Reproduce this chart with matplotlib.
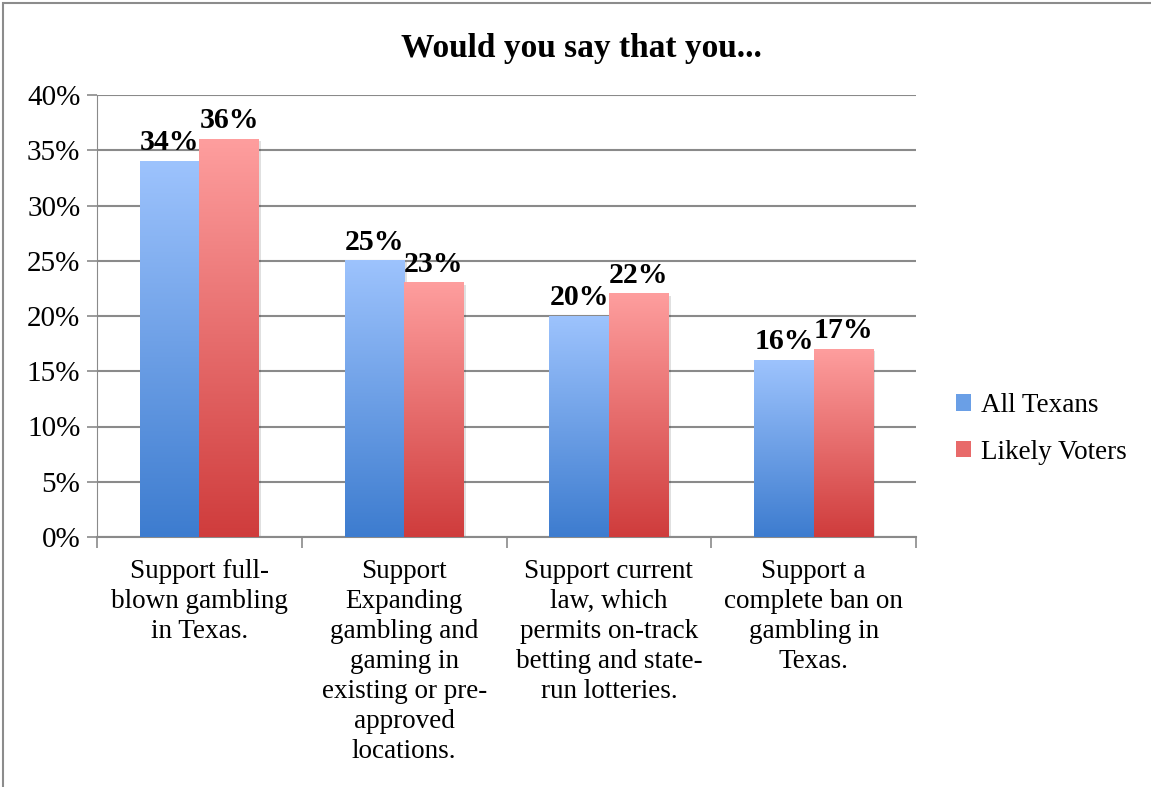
import numpy as np
import matplotlib.pyplot as plt
from matplotlib.colors import LinearSegmentedColormap
from matplotlib.patches import Patch, Rectangle

categories = [
    "Support full-\nblown gambling\nin Texas.",
    "Support\nExpanding\ngambling and\ngaming in\nexisting or pre-\napproved\nlocations.",
    "Support current\nlaw, which\npermits on-track\nbetting and state-\nrun lotteries.",
    "Support a\ncomplete ban on\ngambling in\nTexas.",
]
all_texans = [34, 25, 20, 16]
likely_voters = [36, 23, 22, 17]
series_names = ["All Texans", "Likely Voters"]
yticks = [0, 5, 10, 15, 20, 25, 30, 35, 40]

plt.rcParams["font.family"] = ["Liberation Serif", "DejaVu Serif"]

blue_cmap = LinearSegmentedColormap.from_list("b", ["#3d7ccf", "#9dc3fd"])
red_cmap = LinearSegmentedColormap.from_list("r", ["#cf3c3c", "#fe9e9e"])

fig = plt.figure(figsize=(11.51, 7.87), dpi=100)
ax = fig.add_axes([97 / 1151, 1 - 537 / 787, (916 - 97) / 1151, (537 - 95) / 787])

# outer chart frame (only left and top visible)
fig.patches.append(Rectangle((3 / 1151, -0.1), 1.2, 1 - 3 / 787 + 0.1,
                             transform=fig.transFigure, fill=False,
                             edgecolor="#8c8c8c", linewidth=1.5))

x = np.arange(len(categories))
w = 0.29
bars1 = ax.bar(x - w / 2, all_texans, w, color="none")
bars2 = ax.bar(x + w / 2, likely_voters, w, color="none")

grad = np.linspace(0, 1, 256).reshape(-1, 1)
for bars, cmap in ((bars1, blue_cmap), (bars2, red_cmap)):
    for b in bars:
        x0, h, bw = b.get_x(), b.get_height(), b.get_width()
        # soft shadow
        ax.add_patch(Rectangle((x0 + 0.012, -0.3), bw, h + 0.3 - 0.15,
                               facecolor="#000000", alpha=0.12, zorder=2,
                               linewidth=0))
        ax.imshow(grad, extent=(x0, x0 + bw, 0, h), origin="lower",
                  cmap=cmap, aspect="auto", zorder=3)
        ax.text(x0 + bw / 2, h + 0.45, f"{h:.0f}%", ha="center", va="bottom",
                fontsize=21.5, fontweight="bold", zorder=4)

ax.set_xlim(-0.5, len(categories) - 0.5)
ax.set_ylim(0, 40)
ax.set_yticks(yticks)
ax.set_yticklabels([f"{t}%" for t in yticks], fontsize=21)
ax.yaxis.grid(True, color="#8a8a8a", linewidth=1.5)
ax.set_axisbelow(True)

ax.set_xticks(x)
ax.set_xticklabels(categories, fontsize=19.5, linespacing=1.26)
ax.tick_params(axis="x", length=0, pad=16)
ax.set_xticks(np.arange(len(categories) + 1) - 0.5, minor=True)
ax.tick_params(axis="x", which="minor", length=8, color="#8a8a8a", width=1.2)
ax.tick_params(axis="y", length=7, color="#8a8a8a", width=1.2, pad=5)

for s in ("top", "right"):
    ax.spines[s].set_visible(False)
ax.spines["left"].set_color("#8a8a8a")
ax.spines["bottom"].set_color("#8a8a8a")
ax.spines["bottom"].set_linewidth(1.5)

fig.text(581 / 1151, 1 - 48 / 787, "Would you say that you...", ha="center",
         va="center", fontsize=24, fontweight="bold")

handles = [Patch(facecolor="#6a9fe6"), Patch(facecolor="#e86a6a")]
fig.legend(handles, series_names, loc="center left",
           bbox_to_anchor=(932 / 1151, 1 - 429 / 787), frameon=False,
           fontsize=19.5, handlelength=0.55, handleheight=0.55,
           handletextpad=0.35, labelspacing=0.8)

fig.savefig("out.png", dpi=100)
